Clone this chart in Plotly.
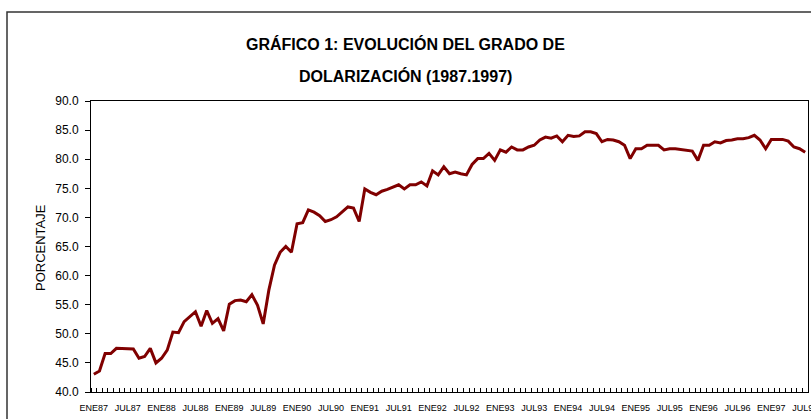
import plotly.graph_objects as go

years = list(range(87, 98))
months_es = ["ENE", "FEB", "MAR", "ABR", "MAY", "JUN", "JUL", "AGO", "SEP", "OCT", "NOV", "DIC"]
month_labels = [f"{m}{y}" for y in years for m in months_es][:127]  # ENE87 .. JUL97

dolarizacion = [
    43.05, 43.6, 46.6, 46.6, 47.5, 47.5, 47.5, 47.4, 45.8, 46.1, 47.5, 45.0,
    45.8, 47.2, 50.3, 50.2, 52.1, 52.9, 53.8, 51.3, 54.0, 51.8, 52.6, 50.5,
    55.1, 55.7, 55.8, 55.5, 56.7, 54.9, 51.7, 57.5, 61.8, 64.0, 65.0, 64.0,
    68.9, 69.1, 71.3, 70.9, 70.3, 69.3, 69.6, 70.1, 71.0, 71.8, 71.6, 69.3,
    74.9, 74.3, 73.9, 74.5, 74.8, 75.2, 75.6, 74.9, 75.6, 75.6, 76.1, 75.4,
    78.0, 77.3, 78.7, 77.5, 77.8, 77.5, 77.3, 79.1, 80.1, 80.1, 81.0, 79.8,
    81.6, 81.2, 82.1, 81.6, 81.6, 82.1, 82.4, 83.3, 83.8, 83.6, 84.0, 83.0,
    84.1, 83.9, 84.0, 84.7, 84.7, 84.4, 83.0, 83.4, 83.3, 83.0, 82.4, 80.1,
    81.8, 81.8, 82.4, 82.4, 82.4, 81.6, 81.8, 81.8, 81.7, 81.5, 81.4, 79.8,
    82.4, 82.4, 83.0, 82.8, 83.2, 83.3, 83.5, 83.5, 83.7, 84.1, 83.3, 81.8,
    83.4, 83.4, 83.4, 83.1, 82.1, 81.8, 81.2,
]

y_ticks = [40, 45, 50, 55, 60, 65, 70, 75, 80, 85, 90]
title_line1 = "GRÁFICO 1: EVOLUCIÓN DEL GRADO DE"
title_line2 = "DOLARIZACIÓN (1987.1997)"
y_title = "PORCENTAJE"

x_idx = list(range(len(dolarizacion)))
label_idx = [i for i in x_idx if i % 6 == 0]
label_txt = [month_labels[i] for i in label_idx]
boundaries = [i - 0.5 for i in range(len(dolarizacion) + 1)]

ARIAL = "Liberation Sans, Arial, sans-serif"

fig = go.Figure()
fig.add_trace(go.Scatter(
    x=x_idx, y=dolarizacion, mode="lines",
    line=dict(color="#800000", width=3),
    hovertext=month_labels, showlegend=False,
))

L, R, T, B = 91, 3, 101, 27
W, H = 811, 419
pw, ph = W - L - R, H - T - B

def px_x(x):
    return (x - L) / pw

def px_y(y):
    return (H - B - y) / ph

fig.update_layout(
    width=W, height=H,
    margin=dict(l=L, r=R, t=T, b=B),
    paper_bgcolor="white", plot_bgcolor="white",
    font=dict(family=ARIAL, color="black"),
    xaxis=dict(
        range=[-0.5, len(dolarizacion) - 0.5], automargin=False,
        tickmode="array", tickvals=label_idx, ticktext=label_txt,
        ticks="", showgrid=False, zeroline=False,
        showline=True, linecolor="black", linewidth=1, mirror=True,
        tickfont=dict(family=ARIAL, size=9, color="black"),
        tickangle=0, ticklabelstandoff=7, ticklabeloverflow="allow",
        minor=dict(tickmode="array", tickvals=boundaries, ticks="inside",
                   ticklen=4, tickcolor="black", tickwidth=1, showgrid=False),
    ),
    yaxis=dict(
        range=[40, 90], automargin=False, tickmode="array", tickvals=y_ticks,
        tickformat=".1f", ticks="outside", ticklen=5, tickcolor="black",
        showgrid=False, zeroline=False, ticklabelstandoff=4,
        showline=True, linecolor="black", linewidth=1, mirror=True,
        tickfont=dict(family=ARIAL, size=12, color="black"),
    ),
    shapes=[dict(
        type="rect", xref="paper", yref="paper",
        x0=px_x(7), x1=px_x(818), y0=px_y(426), y1=px_y(12),
        line=dict(color="#333333", width=1.5), fillcolor="rgba(0,0,0,0)",
        layer="below",
    )],
    annotations=[
        dict(text=f"<b>{title_line1}</b>", xref="paper", yref="paper",
             x=px_x(405), y=px_y(44), xanchor="center", yanchor="middle",
             showarrow=False, font=dict(family=ARIAL, size=16, color="black")),
        dict(text=f"<b>{title_line2}</b>", xref="paper", yref="paper",
             x=px_x(405), y=px_y(76), xanchor="center", yanchor="middle",
             showarrow=False, font=dict(family=ARIAL, size=16, color="black")),
        dict(text=y_title, xref="paper", yref="paper",
             x=px_x(40), y=px_y(247), xanchor="center", yanchor="middle",
             textangle=-90, showarrow=False,
             font=dict(family=ARIAL, size=13, color="black")),
    ],
)

fig.write_html("out.html", config={"displayModeBar": False},
               post_script="document.body.style.margin='0';document.body.style.overflow='hidden';")
